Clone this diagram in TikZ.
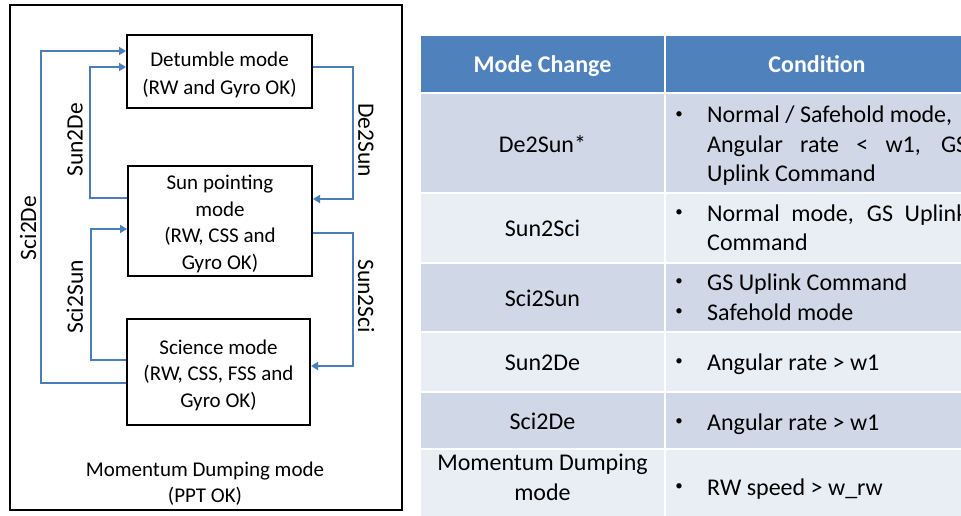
\documentclass[tikz,border=0pt]{standalone}
\usepackage{fontspec}
\setmainfont{Carlito}
\usetikzlibrary{arrows.meta}
\definecolor{hdrblue}{HTML}{4F81BD}
\definecolor{rowdark}{HTML}{D0D8E8}
\definecolor{rowlight}{HTML}{E9EDF4}
\definecolor{flowblue}{HTML}{4A7EBB}
\begin{document}
\begin{tikzpicture}[x=1pt,y=-1pt,
  modebox/.style={draw=black, line width=2pt, fill=white, inner sep=0pt},
  modetext/.style={align=center, inner sep=0pt, font=\fontsize{21}{26.5}\selectfont},
  flow/.style={draw=flowblue, line width=2pt, line join=miter,
    -{Triangle[length=7pt,width=8pt]}},
  flowlabel/.style={inner sep=0pt, font=\fontsize{23.5}{28}\selectfont},
  celltext/.style={anchor=base, inner sep=0pt, font=\fontsize{24}{29}\selectfont},
  condtext/.style={anchor=base west, inner sep=0pt, font=\fontsize{24}{29}\selectfont},
  bulletmark/.style={anchor=center, inner sep=0pt, font=\fontsize{15}{15}\selectfont},
  hdrtext/.style={anchor=base, inner sep=0pt, text=white, font=\fontsize{24}{29}\selectfont\bfseries}]
\useasboundingbox (0,0) rectangle (961,516);
\fill[white] (0,0) rectangle (961,516);

% ---- state diagram ----
\draw[line width=2pt] (10,5) rectangle (402,510);

\node[modebox, minimum width=185pt, minimum height=73pt] (det) at (219.5,71.5) {};
\node[modebox, minimum width=184pt, minimum height=110pt] (sun) at (220,221) {};
\node[modebox, minimum width=183pt, minimum height=106pt] (sci) at (218.5,372) {};

\node[modetext, font=\fontsize{21}{28}\selectfont] (dettext) at ([yshift=-3pt]det.center)
  {Detumble mode\\(RW and Gyro OK)};
\node[modetext] (suntext) at ([yshift=-3pt]sun.center)
  {Sun pointing\\mode\\(RW, CSS and\\Gyro OK)};
\node[modetext] (scitext) at ([yshift=-3pt]sci.center)
  {Science mode\\(RW, CSS, FSS and\\Gyro OK)};

% Sci2De
\draw[flow] ([yshift=-11pt]sci.west) -| ([xshift=-85pt,yshift=20.5pt]det.west)
  -- ([yshift=20.5pt]det.west);
% Sun2De
\draw[flow] ([yshift=23pt]sun.west) -| ([xshift=-36pt,yshift=4.5pt]det.west)
  -- ([yshift=4.5pt]det.west);
% De2Sun
\draw[flow] ([yshift=4.5pt]det.east) -| ([xshift=40pt,yshift=22pt]sun.east)
  -- ([yshift=22pt]sun.east);
% Sun2Sci
\draw[flow] ([yshift=-12pt]sun.east) -| ([xshift=42pt,yshift=6pt]sci.east)
  -- ([yshift=6pt]sci.east);
% Sci2Sun
\draw[flow] ([yshift=12pt]sci.west) -| ([xshift=-36pt,yshift=-8pt]sun.west)
  -- ([yshift=-8pt]sun.west);

\node[flowlabel, rotate=90] (lsci2de) at (28,228) {Sci2De};
\node[flowlabel, rotate=90] (lsun2de) at (75,140) {Sun2De};
\node[flowlabel, rotate=90] (lsci2sun) at (75,297) {Sci2Sun};
\node[flowlabel, rotate=-90] (lde2sun) at (366,140) {De2Sun};
\node[flowlabel, rotate=-90] (lsun2sci) at (366,296) {Sun2Sci};

\node[align=center, inner sep=0pt, font=\fontsize{21}{26}\selectfont] (mdm) at (205,484)
  {Momentum Dumping mode\\(PPT OK)};

% ---- condition table ----
\fill[hdrblue] (421,36) rectangle (664,92);
\fill[hdrblue] (666,36) rectangle (975,92);
\foreach \ya/\yb/\c in {94/192/rowdark, 194/262/rowlight, 264/331/rowdark,
                        333/391/rowlight, 393/448/rowdark, 450/520/rowlight}{
  \fill[\c] (421,\ya) rectangle (664,\yb);
  \fill[\c] (666,\ya) rectangle (975,\yb);
}

\node[hdrtext] (h1) at (542.5,73) {Mode Change};
\node[hdrtext] (h2) at (817,73) {Condition};

\node[celltext] (c1) at (542.5,153) {De2Sun*};
\node[celltext] (c2) at (542.5,236) {Sun2Sci};
\node[celltext] (c3) at (542.5,306) {Sci2Sun};
\node[celltext] (c4) at (542.5,370) {Sun2De};
\node[celltext] (c5) at (542.5,429) {Sci2De};
\node[celltext] (c6a) at (542.5,470) {Momentum Dumping};
\node[celltext] (c6b) at (542.5,500) {mode};

% bullets
\foreach \y/\n in {115/b1, 213/b2, 282/b3a, 312/b3b, 362/b4, 422/b5, 487/b6}
  \node[bulletmark] (\n) at (679,\y) {•};

\node[condtext] (d1a) at (707,123) {Normal / Safehold mode,};
\node[condtext] (d1b) at (707,153) {\makebox[260pt][s]{Angular rate < w1, GS}};
\node[condtext] (d1c) at (707,182) {Uplink Command};
\node[condtext] (d2a) at (707,221) {\makebox[260pt][s]{Normal mode, GS Uplink}};
\node[condtext] (d2b) at (707,250) {Command};
\node[condtext] (d3a) at (707,290) {GS Uplink Command};
\node[condtext] (d3b) at (707,320) {Safehold mode};
\node[condtext] (d4) at (707,370) {Angular rate > w1};
\node[condtext] (d5) at (707,430) {Angular rate > w1};
\node[condtext] (d6) at (707,495) {RW speed > w\_rw};
\end{tikzpicture}
\end{document}
